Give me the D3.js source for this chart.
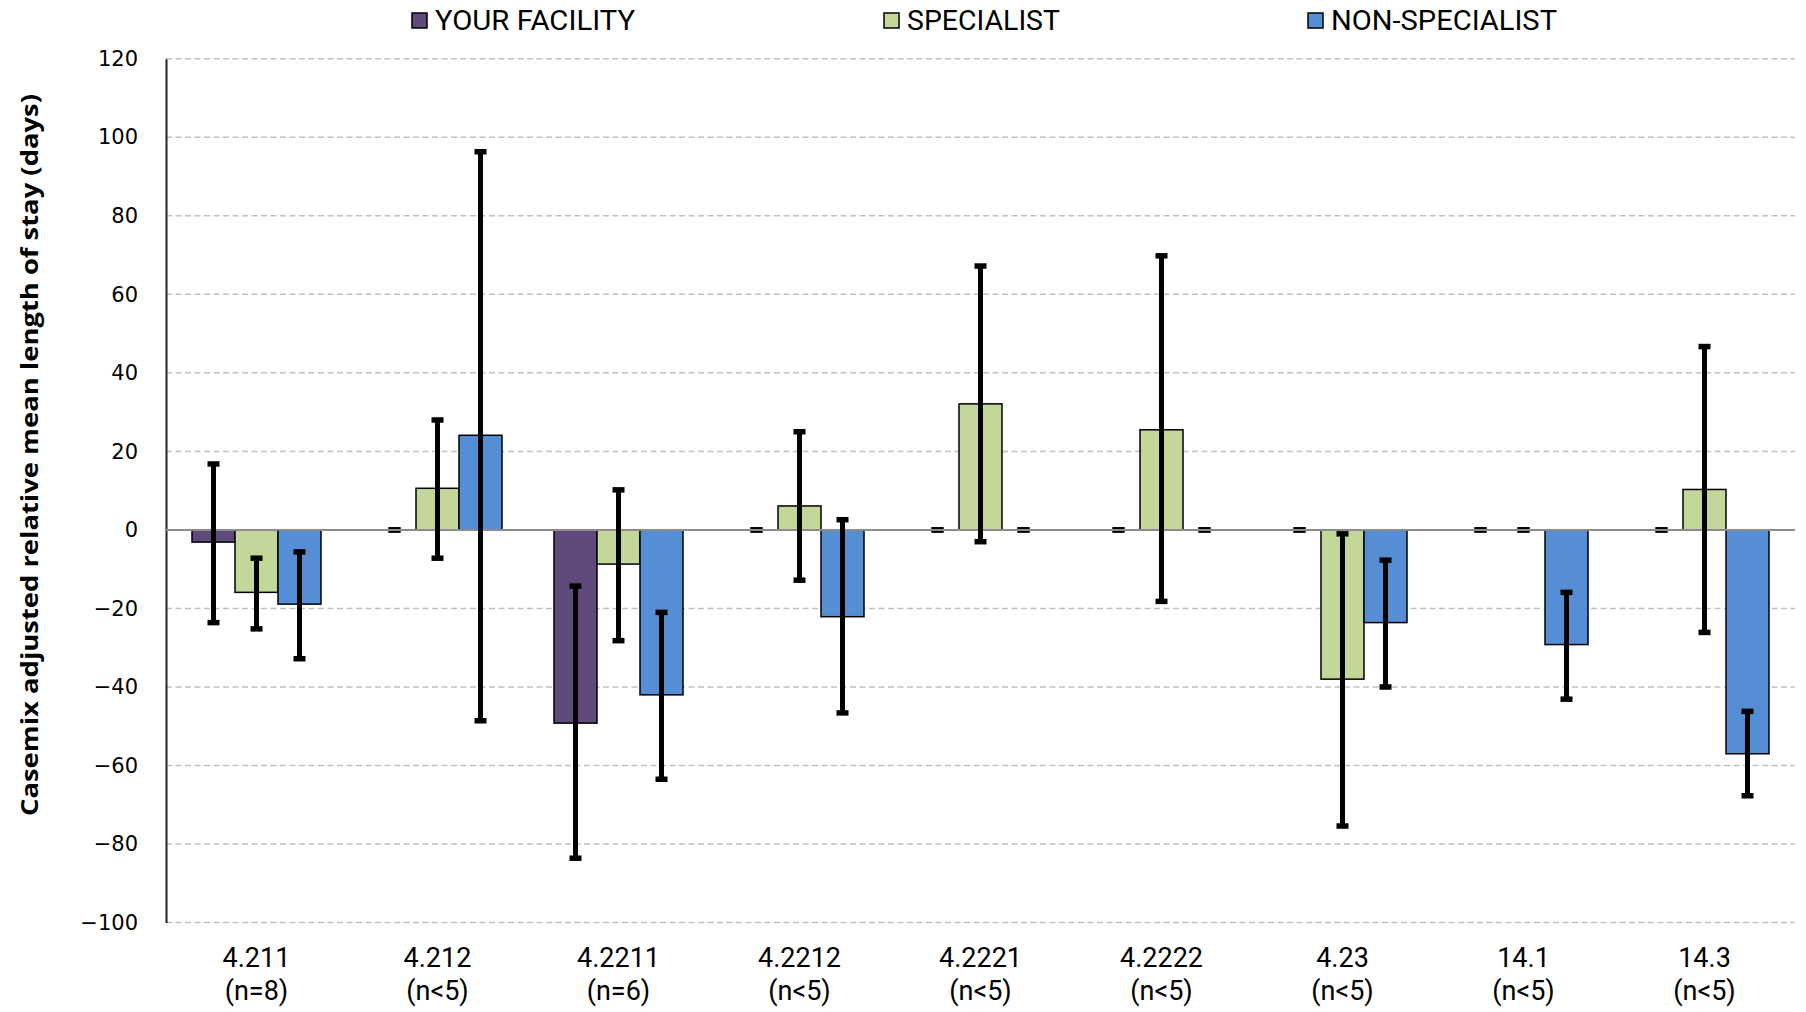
<!DOCTYPE html>
<html><head><meta charset="utf-8">
<script src="https://cdn.jsdelivr.net/npm/d3@7"></script>
<style>body{margin:0;background:#fff;} svg{display:block;}</style>
</head><body>
<svg id="chart" width="1806" height="1012"></svg>
<script>
const categories = ["4.211","4.212","4.2211","4.2212","4.2221","4.2222","4.23","14.1","14.3"];
const nLabels = ["(n=8)","(n<5)","(n=6)","(n<5)","(n<5)","(n<5)","(n<5)","(n<5)","(n<5)"];
const seriesNames = ["YOUR FACILITY","SPECIALIST","NON-SPECIALIST"];
const seriesColors = ["#604A7B","#C4D79B","#558ED5"];
const facility   = [-3.1, 0, -49.2, 0, 0, 0, 0, 0, 0];
const facilityLo = [-23.6, 0, -83.6, 0, 0, 0, 0, 0, 0];
const facilityHi = [16.8, 0, -14.3, 0, 0, 0, 0, 0, 0];
const specialist   = [-15.9, 10.6, -8.7, 6.1, 32.1, 25.5, -38.0, 0, 10.3];
const specialistLo = [-25.2, -7.2, -28.2, -12.8, -3.0, -18.2, -75.4, 0, -26.1];
const specialistHi = [-7.2, 28.0, 10.2, 25.0, 67.2, 69.8, -1.0, 0, 46.7];
const nonSpecialist   = [-18.9, 24.1, -42.0, -22.1, 0, 0, -23.6, -29.2, -57.0];
const nonSpecialistLo = [-32.8, -48.6, -63.5, -46.6, 0, 0, -40.0, -43.1, -67.7];
const nonSpecialistHi = [-5.6, 96.3, -21.0, 2.6, 0, 0, -7.7, -15.9, -46.2];
const yTicks = [120,100,80,60,40,20,0,-20,-40,-60,-80,-100];

(function(){
const values = [facility, specialist, nonSpecialist];
const los = [facilityLo, specialistLo, nonSpecialistLo];
const his = [facilityHi, specialistHi, nonSpecialistHi];

const svg = d3.select("#chart");
const pLeft = 166, pRight = 1795, pTop = 58.7, pBottom = 922.6;
const x0 = d3.scaleBand().domain(categories).range([pLeft, pRight]).padding(0);
const bw = x0.bandwidth();
const x1 = d3.scaleBand().domain(seriesNames).range([26, bw - 26]).padding(0);
const y = d3.scaleLinear().domain([-100, 120]).range([pBottom, pTop]);

// gridlines
svg.append("g").selectAll("line").data(yTicks.filter(d => d !== 0)).join("line")
  .attr("x1", pLeft).attr("x2", pRight)
  .attr("y1", d => y(d)).attr("y2", d => y(d))
  .attr("stroke", "#c0c0c0").attr("stroke-width", 1.5).attr("stroke-dasharray", "6,3.5");

// y axis
const yAxis = d3.axisLeft(y).tickValues(yTicks).tickSize(0).tickPadding(28);
const gy = svg.append("g").attr("transform", `translate(${pLeft},0)`).call(yAxis);
gy.select(".domain").attr("stroke", "#222").attr("stroke-width", 2);
gy.selectAll("text").attr("font-family", "DejaVu Sans").attr("font-size", 21).attr("fill", "#000");

// data records
const recs = [];
categories.forEach((c, i) => {
  seriesNames.forEach((s, j) => {
    recs.push({c, s, j, v: values[j][i], lo: los[j][i], hi: his[j][i]});
  });
});

// bars
svg.append("g").selectAll("rect").data(recs.filter(d => d.v !== 0)).join("rect")
  .attr("x", d => x0(d.c) + x1(d.s))
  .attr("width", x1.bandwidth())
  .attr("y", d => Math.min(y(d.v), y(0)))
  .attr("height", d => Math.abs(y(d.v) - y(0)))
  .attr("fill", d => seriesColors[d.j])
  .attr("stroke", "#000").attr("stroke-width", 1.5);

const cx = d => x0(d.c) + x1(d.s) + x1.bandwidth() / 2;
const capW = 12;
const capG = svg.append("g");
recs.forEach(d => {
  [d.lo, d.hi].forEach(val => {
    capG.append("line")
      .attr("x1", cx(d) - capW / 2).attr("x2", cx(d) + capW / 2)
      .attr("y1", y(val)).attr("y2", y(val))
      .attr("stroke", "#000").attr("stroke-width", 5.5);
  });
});

// zero line
svg.append("line").attr("x1", pLeft).attr("x2", pRight)
  .attr("y1", y(0)).attr("y2", y(0))
  .attr("stroke", "#8c8c8c").attr("stroke-width", 2);

// error stems
svg.append("g").selectAll("line").data(recs.filter(d => d.hi !== d.lo)).join("line")
  .attr("x1", cx).attr("x2", cx)
  .attr("y1", d => y(d.hi)).attr("y2", d => y(d.lo))
  .attr("stroke", "#000").attr("stroke-width", 5);

// category labels
const xl = svg.append("g");
categories.forEach((c, i) => {
  const xc = x0(c) + bw / 2;
  xl.append("text").attr("x", xc).attr("y", 967).attr("text-anchor", "middle")
    .attr("font-family", "Roboto, sans-serif").attr("font-size", 27).text(c);
  xl.append("text").attr("x", xc).attr("y", 1000).attr("text-anchor", "middle")
    .attr("font-family", "Roboto, sans-serif").attr("font-size", 27).text(nLabels[i]);
});

// y title
svg.append("text")
  .attr("transform", `translate(38,455) rotate(-90)`)
  .attr("text-anchor", "middle")
  .attr("font-family", "Open Sans, sans-serif").attr("font-weight", "bold").attr("font-size", 24)
  .attr("textLength", 722).attr("lengthAdjust", "spacingAndGlyphs")
  .text("Casemix adjusted relative mean length of stay (days)");

// legend
const legendX = [412, 884, 1308];
const legendW = [200, 153, 226];
const lg = svg.append("g");
seriesNames.forEach((s, j) => {
  lg.append("rect").attr("x", legendX[j]).attr("y", 13).attr("width", 15).attr("height", 15)
    .attr("fill", seriesColors[j]).attr("stroke", "#000").attr("stroke-width", 1.5);
  lg.append("text").attr("x", legendX[j] + 23).attr("y", 30)
    .attr("font-family", "Roboto, sans-serif").attr("font-size", 28)
    .attr("textLength", legendW[j]).attr("lengthAdjust", "spacingAndGlyphs").text(s);
});
})();
</script>
</body></html>
